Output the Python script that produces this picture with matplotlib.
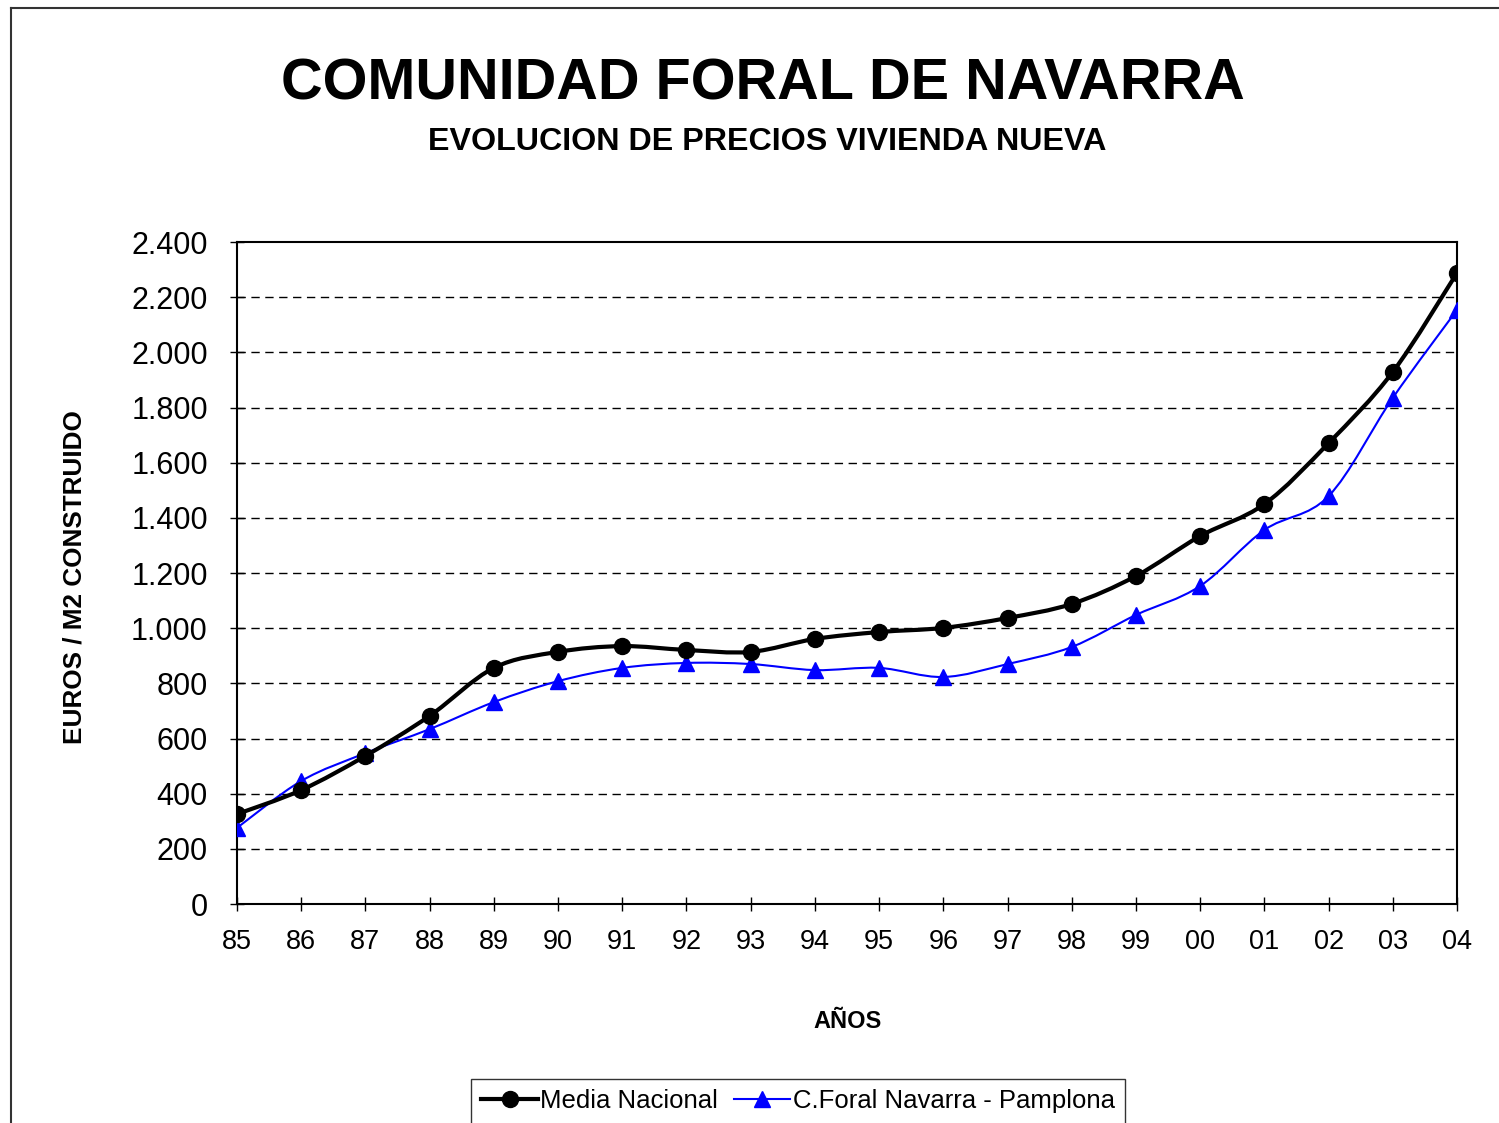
import matplotlib.pyplot as plt
from matplotlib.lines import Line2D
from matplotlib.path import Path
from matplotlib.patches import PathPatch
from matplotlib.ticker import FuncFormatter

plt.rcParams["font.family"] = ["Liberation Sans", "DejaVu Sans"]

# datos (euros / m2 construido)
years = ["85", "86", "87", "88", "89", "90", "91", "92", "93", "94",
         "95", "96", "97", "98", "99", "00", "01", "02", "03", "04"]
media_nacional = [326, 413, 537, 682, 856, 914, 935, 921, 914, 961,
                  986, 1001, 1037, 1088, 1189, 1334, 1450, 1671, 1929, 2288]
navarra_pamplona = [276, 446, 547, 634, 732, 808, 856, 874, 870, 848,
                    856, 823, 870, 932, 1048, 1153, 1356, 1479, 1835, 2154]
y_ticks = list(range(0, 2401, 200))


def smooth_path(xs, ys):
    # curva suavizada tipo Excel (Bezier cubica por los puntos)
    pts = list(zip(xs, ys))
    n = len(pts)
    verts = [pts[0]]
    codes = [Path.MOVETO]
    for i in range(n - 1):
        p0 = pts[max(i - 1, 0)]
        p1 = pts[i]
        p2 = pts[i + 1]
        p3 = pts[min(i + 2, n - 1)]
        c1 = (p1[0] + (p2[0] - p0[0]) / 6, p1[1] + (p2[1] - p0[1]) / 6)
        c2 = (p2[0] - (p3[0] - p1[0]) / 6, p2[1] - (p3[1] - p1[1]) / 6)
        verts += [c1, c2, p2]
        codes += [Path.CURVE4] * 3
    return Path(verts, codes)


fig = plt.figure(figsize=(14.99, 11.23), dpi=100)
ax = fig.add_axes([0.1581, 0.195, 0.8139, 0.5895])

x = list(range(len(years)))

ax.add_patch(PathPatch(smooth_path(x, navarra_pamplona), fill=False,
                       edgecolor="#0000ff", lw=1.5, zorder=3))
ax.plot(x, navarra_pamplona, ls="none", marker="^", ms=12,
        color="#0000ff", zorder=4)
ax.add_patch(PathPatch(smooth_path(x, media_nacional), fill=False,
                       edgecolor="black", lw=3, zorder=5))
ax.plot(x, media_nacional, ls="none", marker="o", ms=11.5,
        color="black", zorder=6)

ax.set_xlim(0, len(years) - 1)
ax.set_ylim(0, 2400)
ax.set_xticks(x)
ax.set_xticklabels(years)
ax.set_yticks(y_ticks)
ax.yaxis.set_major_formatter(FuncFormatter(lambda v, p: f"{int(v):,}".replace(",", ".")))
ax.tick_params(axis="y", direction="inout", length=10, width=1, labelsize=22, pad=16)
ax.tick_params(axis="x", direction="inout", length=10, width=1, labelsize=19.5, pad=13)

for v in y_ticks[1:-1]:
    ax.axhline(v, color="black", lw=1, ls=(0, (6, 4)), zorder=1)

for s in ax.spines.values():
    s.set_linewidth(1.5)

fig.text(763 / 1499, 1 - 85 / 1123, "COMUNIDAD FORAL DE NAVARRA", ha="center", va="center",
         fontsize=41.5, fontweight="bold")
fig.text(767 / 1499, 1 - 142 / 1123, "EVOLUCION DE PRECIOS VIVIENDA NUEVA", ha="center", va="center",
         fontsize=23.2, fontweight="bold")
fig.text(75 / 1499, 1 - 577 / 1123, "EUROS / M2 CONSTRUIDO", rotation=90,
         ha="center", va="center", fontsize=18.8, fontweight="bold")
fig.text(848 / 1499, 1 - 1022 / 1123, "AÑOS", ha="center", va="center",
         fontsize=17, fontweight="bold")

handles = [
    Line2D([], [], color="black", lw=3, marker="o", ms=11.5),
    Line2D([], [], color="#0000ff", lw=1.5, marker="^", ms=12),
]
leg = fig.legend(handles, ["Media Nacional", "C.Foral Navarra - Pamplona"],
                 loc="upper center", bbox_to_anchor=(798 / 1499, 1 - 1079 / 1123),
                 ncol=2, fontsize=18.5, frameon=True, fancybox=False,
                 handlelength=2.2, handletextpad=0.1, columnspacing=0.6,
                 borderpad=0.4, borderaxespad=0)
leg.get_frame().set_edgecolor("black")
leg.get_frame().set_linewidth(1)

# marco exterior del grafico
fig.add_artist(Line2D([11 / 1499, 1], [1 - 8 / 1123, 1 - 8 / 1123],
                      transform=fig.transFigure, color="#333333", lw=1.5))
fig.add_artist(Line2D([11 / 1499, 11 / 1499], [0, 1 - 8 / 1123],
                      transform=fig.transFigure, color="#333333", lw=1.5))

fig.savefig("out.png", dpi=100)
plt.close(fig)
